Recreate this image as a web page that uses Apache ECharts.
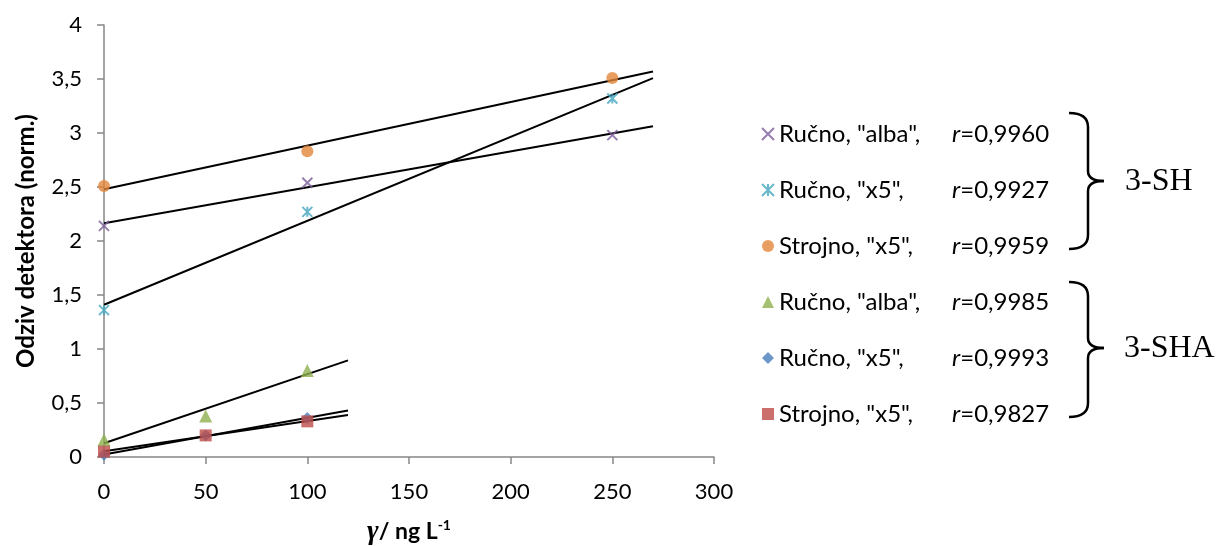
<!DOCTYPE html>
<html><head><meta charset="utf-8">
<script src="https://cdn.jsdelivr.net/npm/echarts@6/dist/echarts.min.js"></script>
<style>html,body{margin:0;padding:0;background:#fff}#c{width:1216px;height:546px}</style>
</head><body><div id="c"></div>
<script>
// ---- data ----
const xSH = [0, 100, 250];
const xSHA = [0, 50, 100];
const shRucnoAlba = [2.14, 2.54, 2.98];
const shRucnoX5 = [1.36, 2.27, 3.32];
const shStrojnoX5 = [2.51, 2.83, 3.51];
const shaRucnoAlba = [0.16, 0.38, 0.80];
const shaRucnoX5 = [0.02, 0.20, 0.36];
const shaStrojnoX5 = [0.05, 0.20, 0.33];
const trendRangeSH = [0, 270];
const trendRangeSHA = [0, 120];
const legendLabels = ['Ručno, "alba",', 'Ručno, "x5",', 'Strojno, "x5",', 'Ručno, "alba",', 'Ručno, "x5",', 'Strojno, "x5",'];
const rValues = ['0,9960', '0,9927', '0,9959', '0,9985', '0,9993', '0,9827'];
const groupLabels = ['3-SH', '3-SHA'];
const xAxisTitle = ['γ', '/ ng L', '-1'];
const yAxisTitle = 'Odziv detektora (norm.)';

const FONT = 'Lato';
const colors = ['#7A5C9B', '#45A5C0', '#E2843A', '#8FB04F', '#4A7EBB', '#BE4B48'];
const symbols = [
  'path://M0,0L10,10M10,0L0,10',
  'path://M0,0L10,10M10,0L0,10M5,0L5,10',
  'circle', 'triangle', 'diamond', 'rect'
];
const xsets = [xSH, xSH, xSH, xSHA, xSHA, xSHA];
const ysets = [shRucnoAlba, shRucnoX5, shStrojnoX5, shaRucnoAlba, shaRucnoX5, shaStrojnoX5];
const ranges = [trendRangeSH, trendRangeSH, trendRangeSH, trendRangeSHA, trendRangeSHA, trendRangeSHA];
const ids = ['s0', 's1', 's2', 's3', 's4', 's5'];

function linReg(xs, ys) {
  const n = xs.length;
  const mx = xs.reduce((a, b) => a + b, 0) / n;
  const my = ys.reduce((a, b) => a + b, 0) / n;
  let sxy = 0, sxx = 0;
  for (let i = 0; i < n; i++) { sxy += (xs[i] - mx) * (ys[i] - my); sxx += (xs[i] - mx) ** 2; }
  const k = sxy / sxx;
  return { k, b: my - k * mx };
}

const series = [];
ysets.forEach((ys, i) => {
  const r = linReg(xsets[i], ys);
  series.push({
    type: 'line', name: 'trend' + i, silent: true, symbol: 'none',
    lineStyle: { color: '#000', width: 2 },
    data: ranges[i].map(x => [x, r.k * x + r.b]), z: 1
  });
});
ysets.forEach((ys, i) => {
  const isPath = symbols[i].startsWith('path');
  series.push({
    type: 'scatter', name: ids[i], symbol: symbols[i],
    symbolSize: i === 3 ? 13 : (isPath ? 10 : 12),
    itemStyle: isPath ? { color: colors[i], borderColor: colors[i], borderWidth: 2 } : { color: colors[i] },
    data: xsets[i].map((x, j) => [x, ys[j]]), z: 3
  });
});

function brace(top, mid, bot) {
  const x0 = 1069, x1 = 1088, x2 = 1104;
  const st = { stroke: '#000', lineWidth: 2.5, fill: null };
  return [
    { type: 'bezierCurve', shape: { x1: x0, y1: top, cpx1: x1, cpy1: top, x2: x1, y2: top + 14 }, style: st },
    { type: 'line', shape: { x1: x1, y1: top + 14, x2: x1, y2: mid - 10 }, style: st },
    { type: 'bezierCurve', shape: { x1: x1, y1: mid - 10, cpx1: x1, cpy1: mid, x2: x2, y2: mid }, style: st },
    { type: 'bezierCurve', shape: { x1: x2, y1: mid, cpx1: x1, cpy1: mid, x2: x1, y2: mid + 10 }, style: st },
    { type: 'line', shape: { x1: x1, y1: mid + 10, x2: x1, y2: bot - 14 }, style: st },
    { type: 'bezierCurve', shape: { x1: x1, y1: bot - 14, cpx1: x1, cpy1: bot, x2: x0, y2: bot }, style: st }
  ];
}

const chart = echarts.init(document.getElementById('c'), null, { renderer: 'canvas' });
chart.setOption({
  animation: false,
  grid: { left: 104, right: 502, top: 25, bottom: 89, containLabel: false, outerBoundsMode: 'none' },
  xAxis: {
    type: 'value', min: 0, max: 300, interval: 50,
    axisLine: { lineStyle: { color: '#868686', width: 1.5 } },
    axisTick: { show: true, length: 7, lineStyle: { color: '#868686', width: 1.5 } },
    splitLine: { show: false },
    axisLabel: { color: '#000', fontFamily: FONT, fontSize: 22, margin: 24 },
    name: '{g|' + xAxisTitle[0] + '}{t|' + xAxisTitle[1] + '}{s|' + xAxisTitle[2] + '}',
    nameLocation: 'middle', nameGap: 61,
    nameTextStyle: {
      rich: {
        g: { fontFamily: 'Liberation Serif', fontStyle: 'italic', fontWeight: 'bold', fontSize: 28, color: '#000' },
        t: { fontFamily: FONT, fontWeight: 'bold', fontSize: 23, color: '#000' },
        s: { fontFamily: FONT, fontWeight: 'bold', fontSize: 14, color: '#000', verticalAlign: 'top', padding: [0, 0, 10, 0] }
      }
    }
  },
  yAxis: {
    type: 'value', min: 0, max: 4, interval: 0.5,
    axisLine: { show: true, lineStyle: { color: '#868686', width: 1.5 } },
    axisTick: { show: true, length: 7, lineStyle: { color: '#868686', width: 1.5 } },
    splitLine: { show: false },
    axisLabel: { color: '#000', fontFamily: FONT, fontSize: 22, margin: 22, formatter: v => String(v).replace('.', ',') },
    name: yAxisTitle, nameLocation: 'middle', nameGap: 66,
    nameTextStyle: { fontFamily: FONT, fontWeight: 'bold', fontSize: 24, color: '#000' }
  },
  legend: {
    orient: 'vertical', left: 756, top: 117, selectedMode: false,
    itemWidth: 12, itemHeight: 12, itemGap: 32,
    data: ids,
    formatter: name => {
      const i = ids.indexOf(name);
      return '{a|' + legendLabels[i] + '}{r|r}{b|=' + rValues[i] + '}';
    },
    textStyle: {
      rich: {
        a: { fontFamily: FONT, fontSize: 24, color: '#000', width: 173, lineHeight: 24 },
        r: { fontFamily: FONT, fontStyle: 'italic', fontSize: 24, color: '#000', lineHeight: 24 },
        b: { fontFamily: FONT, fontSize: 24, color: '#000', lineHeight: 24 }
      }
    }
  },
  graphic: [
    ...brace(113, 181, 249),
    ...brace(282, 348, 417),
    { type: 'text', left: 1125, top: 166, style: { text: groupLabels[0], font: '32px "Liberation Serif"', fill: '#000' } },
    { type: 'text', left: 1124, top: 333, style: { text: groupLabels[1], font: '32px "Liberation Serif"', fill: '#000' } }
  ],
  series
});
</script></body></html>
